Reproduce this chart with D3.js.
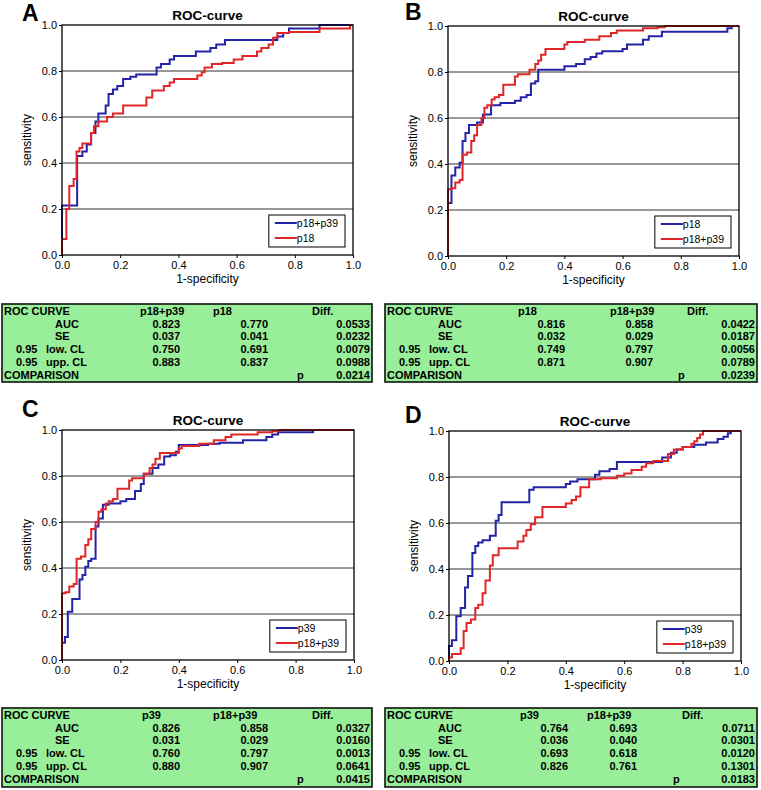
<!DOCTYPE html>
<html><head><meta charset="utf-8">
<script src="https://cdn.jsdelivr.net/npm/d3@7"></script>
<style>
body{margin:0;background:#fff}
svg{display:block}
text{font-family:Arial,"Liberation Sans",sans-serif;fill:#000}
</style>
</head><body>
<svg id="chart" width="761" height="790"></svg>
<script>
// ---------------- DATA ----------------
const xTicks = [0, 0.2, 0.4, 0.6, 0.8, 1.0];
const yTicks = [0, 0.2, 0.4, 0.6, 0.8, 1.0];
const gridValues = [0.2, 0.4, 0.6, 0.8];
const panelLetters = ["A", "B", "C", "D"];
const chartTitle = "ROC-curve";
const xAxisTitle = "1-specificity";
const yAxisTitle = "sensitivity";

// ROC step points [1-specificity, sensitivity]
const rocA_p18p39 = [[0,0],[0,0.215],[0.052,0.43],[0.07,0.45],[0.085,0.48],[0.1,0.53],[0.115,0.58],[0.125,0.615],[0.15,0.65],[0.16,0.70],[0.175,0.72],[0.19,0.735],[0.21,0.765],[0.235,0.775],[0.255,0.785],[0.325,0.815],[0.34,0.83],[0.37,0.85],[0.385,0.865],[0.46,0.885],[0.51,0.9],[0.53,0.915],[0.56,0.935],[0.74,0.95],[0.76,0.965],[0.78,0.985],[0.885,1.0],[1,1]];
const rocA_p18 = [[0,0],[0,0.07],[0.015,0.2],[0.025,0.3],[0.04,0.33],[0.05,0.45],[0.06,0.465],[0.07,0.485],[0.1,0.53],[0.11,0.56],[0.125,0.58],[0.155,0.6],[0.175,0.615],[0.21,0.65],[0.29,0.685],[0.31,0.715],[0.35,0.735],[0.37,0.75],[0.385,0.765],[0.465,0.78],[0.48,0.795],[0.49,0.815],[0.515,0.83],[0.55,0.835],[0.59,0.85],[0.62,0.865],[0.67,0.885],[0.685,0.9],[0.71,0.915],[0.725,0.945],[0.74,0.965],[0.78,0.97],[0.885,0.985],[0.99,1.0],[1,1]];
const rocB_p18 = [[0,0],[0,0.23],[0.012,0.35],[0.025,0.385],[0.04,0.405],[0.05,0.5],[0.06,0.535],[0.072,0.57],[0.1,0.58],[0.12,0.615],[0.148,0.655],[0.18,0.665],[0.23,0.675],[0.25,0.69],[0.27,0.7],[0.285,0.75],[0.3,0.76],[0.31,0.81],[0.4,0.825],[0.44,0.835],[0.47,0.855],[0.49,0.865],[0.51,0.88],[0.53,0.89],[0.6,0.9],[0.615,0.92],[0.67,0.94],[0.69,0.955],[0.735,0.975],[0.96,0.99],[0.975,1.0],[1,1]];
const rocBC_p18p39 = [[0,0],[0,0.29],[0.012,0.295],[0.025,0.32],[0.04,0.33],[0.05,0.44],[0.065,0.45],[0.08,0.5],[0.09,0.525],[0.1,0.57],[0.115,0.6],[0.125,0.645],[0.135,0.655],[0.15,0.68],[0.16,0.69],[0.175,0.7],[0.19,0.745],[0.23,0.78],[0.24,0.79],[0.28,0.81],[0.3,0.835],[0.31,0.85],[0.32,0.875],[0.335,0.9],[0.4,0.92],[0.41,0.93],[0.47,0.94],[0.52,0.955],[0.56,0.97],[0.58,0.98],[0.67,0.99],[0.72,0.995],[0.745,1.0],[1,1]];
const rocC_p39 = [[0,0],[0,0.075],[0.01,0.1],[0.02,0.21],[0.035,0.265],[0.06,0.35],[0.07,0.37],[0.08,0.405],[0.09,0.43],[0.1,0.44],[0.115,0.58],[0.125,0.615],[0.14,0.675],[0.16,0.68],[0.2,0.69],[0.22,0.7],[0.25,0.735],[0.27,0.765],[0.28,0.81],[0.31,0.835],[0.33,0.85],[0.35,0.885],[0.37,0.89],[0.39,0.905],[0.4,0.935],[0.5,0.94],[0.54,0.945],[0.62,0.955],[0.7,0.97],[0.72,0.98],[0.74,0.99],[0.86,1.0],[1,1]];
const rocD_p39 = [[0,0],[0,0.065],[0.01,0.09],[0.025,0.195],[0.04,0.23],[0.055,0.32],[0.065,0.37],[0.08,0.47],[0.09,0.5],[0.1,0.515],[0.115,0.525],[0.14,0.545],[0.16,0.61],[0.17,0.635],[0.18,0.69],[0.275,0.745],[0.29,0.755],[0.4,0.77],[0.415,0.78],[0.44,0.79],[0.5,0.81],[0.515,0.825],[0.55,0.835],[0.575,0.865],[0.73,0.885],[0.76,0.905],[0.78,0.92],[0.8,0.93],[0.84,0.94],[0.88,0.95],[0.92,0.965],[0.94,0.975],[0.955,0.99],[0.965,1.0],[1,1]];
const rocD_p18p39 = [[0,0],[0,0.015],[0.01,0.03],[0.04,0.055],[0.05,0.13],[0.06,0.165],[0.075,0.18],[0.09,0.23],[0.1,0.245],[0.115,0.295],[0.125,0.35],[0.14,0.415],[0.15,0.46],[0.17,0.49],[0.235,0.52],[0.255,0.545],[0.265,0.57],[0.28,0.595],[0.295,0.625],[0.32,0.67],[0.4,0.685],[0.42,0.7],[0.435,0.715],[0.45,0.755],[0.48,0.79],[0.52,0.795],[0.575,0.805],[0.6,0.815],[0.625,0.83],[0.66,0.845],[0.675,0.86],[0.7,0.87],[0.75,0.9],[0.77,0.92],[0.8,0.93],[0.83,0.945],[0.84,0.955],[0.85,0.97],[0.86,0.985],[0.87,1.0],[1,1]];

const seriesNamesA = ["p18+p39", "p18"];
const seriesNamesB = ["p18", "p18+p39"];
const seriesNamesC = ["p39", "p18+p39"];
const seriesNamesD = ["p39", "p18+p39"];

// tables
const tableRowLabels = ["AUC", "SE", "0.95 low. CL", "0.95 upp. CL"];
const tableHeadLabel = "ROC CURVE";
const tableCompLabel = "COMPARISON";
const tableDiffLabel = "Diff.";
const tableA_col1 = ["0.823","0.037","0.750","0.883"];
const tableA_col2 = ["0.770","0.041","0.691","0.837"];
const tableA_diff = ["0.0533","0.0232","0.0079","0.0988"];
const tableA_p = "0.0214";
const tableB_col1 = ["0.816","0.032","0.749","0.871"];
const tableB_col2 = ["0.858","0.029","0.797","0.907"];
const tableB_diff = ["0.0422","0.0187","0.0056","0.0789"];
const tableB_p = "0.0239";
const tableC_col1 = ["0.826","0.031","0.760","0.880"];
const tableC_col2 = ["0.858","0.029","0.797","0.907"];
const tableC_diff = ["0.0327","0.0160","0.0013","0.0641"];
const tableC_p = "0.0415";
const tableD_col1 = ["0.764","0.036","0.693","0.826"];
const tableD_col2 = ["0.693","0.040","0.618","0.761"];
const tableD_diff = ["0.0711","0.0301","0.0120","0.1301"];
const tableD_p = "0.0183";

// ---------------- STYLE / LAYOUT ----------------
const BLUE = "#2424a8", RED = "#e02626", GREEN = "#99ee99";

const panels = [
  { letter: panelLetters[0], names: seriesNamesA, curves: [rocA_p18p39, rocA_p18],
    plot: {l:62, r:353, t:25, b:255}, letterPos: {x:22, y:21},
    table: {x:2, y:304, w:370, h:78, col1: tableA_col1, col2: tableA_col2, diff: tableA_diff, p: tableA_p,
            h1:138, h2:211, hd:310, v1:178, v2:266, vd:368, px:295} },
  { letter: panelLetters[1], names: seriesNamesB, curves: [rocB_p18, rocBC_p18p39],
    plot: {l:448, r:739, t:26, b:256}, letterPos: {x:405, y:20},
    table: {x:385, y:304, w:372, h:78, col1: tableB_col1, col2: tableB_col2, diff: tableB_diff, p: tableB_p,
            h1:133, h2:225, hd:302, v1:180, v2:268, vd:370, px:293} },
  { letter: panelLetters[2], names: seriesNamesC, curves: [rocC_p39, rocBC_p18p39],
    plot: {l:62, r:354, t:430, b:660}, letterPos: {x:22, y:417},
    table: {x:2, y:708, w:370, h:79, col1: tableC_col1, col2: tableC_col2, diff: tableC_diff, p: tableC_p,
            h1:140, h2:211, hd:310, v1:178, v2:266, vd:368, px:295} },
  { letter: panelLetters[3], names: seriesNamesD, curves: [rocD_p39, rocD_p18p39],
    plot: {l:449, r:741, t:431, b:661}, letterPos: {x:405, y:423},
    table: {x:385, y:708, w:372, h:79, col1: tableD_col1, col2: tableD_col2, diff: tableD_diff, p: tableD_p,
            h1:135, h2:202, hd:297, v1:183, v2:252, vd:370, px:288} }
];
const colors = [BLUE, RED];

const svg = d3.select("#chart");
svg.append("rect").attr("width", 761).attr("height", 790).attr("fill", "#fff");

panels.forEach(p => {
  const g = svg.append("g");
  const x = d3.scaleLinear().domain([0, 1]).range([p.plot.l, p.plot.r]);
  const y = d3.scaleLinear().domain([0, 1]).range([p.plot.b, p.plot.t]);

  // letter + title
  g.append("text").attr("x", p.letterPos.x).attr("y", p.letterPos.y)
    .attr("font-size", 23).attr("font-weight", "bold").text(p.letter);
  g.append("text").attr("x", (p.plot.l + p.plot.r) / 2).attr("y", p.plot.t - 5.5)
    .attr("text-anchor", "middle").attr("font-size", 13.5).attr("font-weight", "bold").text(chartTitle);

  // gridlines
  g.selectAll(".grid").data(gridValues).enter().append("line")
    .attr("x1", p.plot.l).attr("x2", p.plot.r)
    .attr("y1", d => y(d)).attr("y2", d => y(d))
    .attr("stroke", "#333").attr("stroke-width", 1);

  // axes
  const ax = g.append("g").attr("transform", `translate(0,${p.plot.b})`)
    .call(d3.axisBottom(x).tickValues(xTicks).tickFormat(d3.format(".1f")).tickSize(3).tickPadding(3));
  const ay = g.append("g").attr("transform", `translate(${p.plot.l},0)`)
    .call(d3.axisLeft(y).tickValues(yTicks).tickFormat(d3.format(".1f")).tickSize(3).tickPadding(2));
  [ax, ay].forEach(a => {
    a.select(".domain").remove();
    a.selectAll("line").attr("stroke", "#000");
    a.selectAll("text").attr("font-size", 11).attr("fill", "#000")
      .style("font-family", "Arial, 'Liberation Sans', sans-serif");
  });

  // axis titles
  g.append("text").attr("x", (p.plot.l + p.plot.r) / 2).attr("y", p.plot.b + 28)
    .attr("text-anchor", "middle").attr("font-size", 12).text(xAxisTitle);
  g.append("text").attr("transform", `translate(${p.plot.l - 31},${(p.plot.t + p.plot.b) / 2}) rotate(-90)`)
    .attr("text-anchor", "middle").attr("font-size", 12).text(yAxisTitle);

  // curves
  const line = d3.line().x(d => x(d[0])).y(d => y(d[1])).curve(d3.curveStepAfter);
  p.curves.forEach((c, i) => {
    g.append("path").datum(c).attr("d", line).attr("fill", "none")
      .attr("stroke", colors[i]).attr("stroke-width", 2);
  });

  // frame
  g.append("rect").attr("x", p.plot.l).attr("y", p.plot.t)
    .attr("width", p.plot.r - p.plot.l).attr("height", p.plot.b - p.plot.t)
    .attr("fill", "none").attr("stroke", "#000").attr("stroke-width", 1.3);

  // legend
  const lg = g.append("g");
  const txts = p.names.map((n, i) => lg.append("text").attr("font-size", 10.5).text(n));
  const tw = d3.max(txts, t => t.node().getComputedTextLength());
  const lw = 29 + tw + 6, lh = 32;
  const lx = p.plot.r - 8 - lw, ly = p.plot.b - 8 - lh;
  lg.insert("rect", "text").attr("x", lx).attr("y", ly).attr("width", lw).attr("height", lh)
    .attr("fill", "#fff").attr("stroke", "#000").attr("stroke-width", 1);
  p.names.forEach((n, i) => {
    const yy = ly + 8 + i * 15;
    lg.append("line").attr("x1", lx + 6).attr("x2", lx + 28).attr("y1", yy).attr("y2", yy)
      .attr("stroke", colors[i]).attr("stroke-width", 2);
    txts[i].attr("x", lx + 28).attr("y", yy + 3.8);
  });

  // table
  const t = p.table;
  const tg = g.append("g").attr("transform", `translate(${t.x},${t.y})`);
  tg.append("rect").attr("width", t.w).attr("height", t.h).attr("fill", GREEN)
    .attr("stroke", "#111").attr("stroke-width", 1.6);
  const rowY = i => 10.8 + i * 12.8;
  const txt = (xx, yy, s, anchor) => tg.append("text").attr("x", xx).attr("y", yy)
    .attr("font-size", 11).attr("font-weight", "bold").attr("text-anchor", anchor || "start").text(s);
  txt(2, rowY(0), tableHeadLabel);
  txt(t.h1, rowY(0), p.names[0]);
  txt(t.h2, rowY(0), p.names[1]);
  txt(t.hd, rowY(0), tableDiffLabel);
  tableRowLabels.forEach((lab, i) => {
    const yy = rowY(i + 1);
    if (lab.startsWith("0.95")) {
      txt(14, yy, lab.slice(0, 4));
      txt(44, yy, lab.slice(5));
    } else {
      txt(53, yy, lab);
    }
    txt(t.v1, yy, t.col1[i], "end");
    txt(t.v2, yy, t.col2[i], "end");
    txt(t.vd, yy, t.diff[i], "end");
  });
  txt(2, rowY(5), tableCompLabel);
  txt(t.px, rowY(5), "p");
  txt(t.vd, rowY(5), t.p, "end");
});
</script>
</body></html>
